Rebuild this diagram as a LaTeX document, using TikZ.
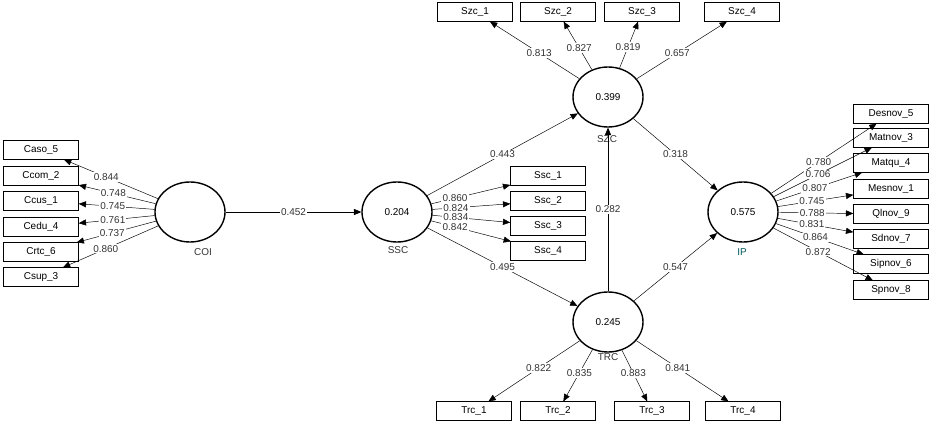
\documentclass[tikz,border=0pt]{standalone}
\usepackage{fontspec}
\setmainfont{Liberation Sans}
\usetikzlibrary{arrows,shapes.geometric}
\begin{document}
\begin{tikzpicture}[->,>=triangle 45,x=0.03cm,y=-0.03cm,font=\fontsize{8.5}{10}\selectfont,thin]
  \tikzstyle{latent}=[draw,ellipse,very thick,minimum width=2.1cm,minimum height=1.8cm,inner sep=0pt]
  \tikzstyle{item}=[draw,rectangle,minimum width=2.25cm,minimum height=0.56cm,inner sep=0pt]
  \tikzstyle{lab}=[fill=white,inner sep=1pt,text=black!80]
  \tikzstyle{lvname}=[text=black!80]
  \useasboundingbox (0,0) rectangle (939,425);

  \node[latent] (COI) at (190,212) {};
  \node[latent] (SSC) at (397,212) {0.204};
  \node[latent] (SZC) at (608,97)  {0.399};
  \node[latent] (TRC) at (608,322) {0.245};
  \node[latent] (IP)  at (743,212) {0.575};
  \node[lvname] at (203,252) {COI};
  \node[lvname] at (398,250) {SSC};
  \node[lvname] at (607,139) {SZC};
  \node[lvname] at (608,357) {TRC};
  \node[lvname,text=teal!70!black] at (742,252) {IP};

  % COI items
  \node[item] (Caso) at (41,150) {Caso\_5};
  \node[item] (Ccom) at (41,176) {Ccom\_2};
  \node[item] (Ccus) at (41,201) {Ccus\_1};
  \node[item] (Cedu) at (41,227) {Cedu\_4};
  \node[item] (Crtc) at (41,252) {Crtc\_6};
  \node[item] (Csup) at (41,277) {Csup\_3};
  % SSC items
  \node[item] (Ssca) at (548,176) {Ssc\_1};
  \node[item] (Sscb) at (548,201) {Ssc\_2};
  \node[item] (Sscc) at (548,226) {Ssc\_3};
  \node[item] (Sscd) at (548,251) {Ssc\_4};
  % SZC items
  \node[item] (Szca) at (475,12) {Szc\_1};
  \node[item] (Szcb) at (558,12) {Szc\_2};
  \node[item] (Szcc) at (642,12) {Szc\_3};
  \node[item] (Szcd) at (742,12) {Szc\_4};
  % TRC items
  \node[item] (Trca) at (474,411) {Trc\_1};
  \node[item] (Trcb) at (558,411) {Trc\_2};
  \node[item] (Trcc) at (652,411) {Trc\_3};
  \node[item] (Trcd) at (743,411) {Trc\_4};
  % IP items
  \node[item] (Desnov) at (891,114) {Desnov\_5};
  \node[item] (Matnov) at (891,138) {Matnov\_3};
  \node[item] (Matqu)  at (891,163) {Matqu\_4};
  \node[item] (Mesnov) at (891,189) {Mesnov\_1};
  \node[item] (Qlnov)  at (891,214) {Qlnov\_9};
  \node[item] (Sdnov)  at (891,239) {Sdnov\_7};
  \node[item] (Sipnov) at (891,264) {Sipnov\_6};
  \node[item] (Spnov)  at (891,290) {Spnov\_8};

  \path (COI) edge node[lab,pos=0.55] {0.844} (Caso)
              edge node[lab,pos=0.55] {0.748} (Ccom)
              edge node[lab,pos=0.55] {0.745} (Ccus)
              edge node[lab,pos=0.55] {0.761} (Cedu)
              edge node[lab,pos=0.55] {0.737} (Crtc)
              edge node[lab,pos=0.55] {0.860} (Csup)
              edge node[lab,pos=0.5]  {0.452} (SSC)
        (SSC) edge node[lab,pos=0.3] {0.860} (Ssca)
              edge node[lab,pos=0.3] {0.824} (Sscb)
              edge node[lab,pos=0.3] {0.834} (Sscc)
              edge node[lab,pos=0.3] {0.842} (Sscd)
              edge node[lab,pos=0.5] {0.443} (SZC)
              edge node[lab,pos=0.5] {0.495} (TRC)
        (SZC) edge node[lab,pos=0.45] {0.813} (Szca)
              edge node[lab,pos=0.45] {0.827} (Szcb)
              edge node[lab,pos=0.45] {0.819} (Szcc)
              edge node[lab,pos=0.45] {0.657} (Szcd)
              edge node[lab,pos=0.5]  {0.318} (IP)
        (TRC) edge node[lab,pos=0.5] {0.282} (SZC)
              edge node[lab,pos=0.5] {0.547} (IP)
              edge node[lab,pos=0.45] {0.822} (Trca)
              edge node[lab,pos=0.45] {0.835} (Trcb)
              edge node[lab,pos=0.45] {0.883} (Trcc)
              edge node[lab,pos=0.45] {0.841} (Trcd)
        (IP)  edge node[lab,pos=0.45] {0.780} (Desnov)
              edge node[lab,pos=0.45] {0.706} (Matnov)
              edge node[lab,pos=0.45] {0.807} (Matqu)
              edge node[lab,pos=0.45] {0.745} (Mesnov)
              edge node[lab,pos=0.45] {0.788} (Qlnov)
              edge node[lab,pos=0.45] {0.831} (Sdnov)
              edge node[lab,pos=0.45] {0.864} (Sipnov)
              edge node[lab,pos=0.45] {0.872} (Spnov);
\end{tikzpicture}
\end{document}
